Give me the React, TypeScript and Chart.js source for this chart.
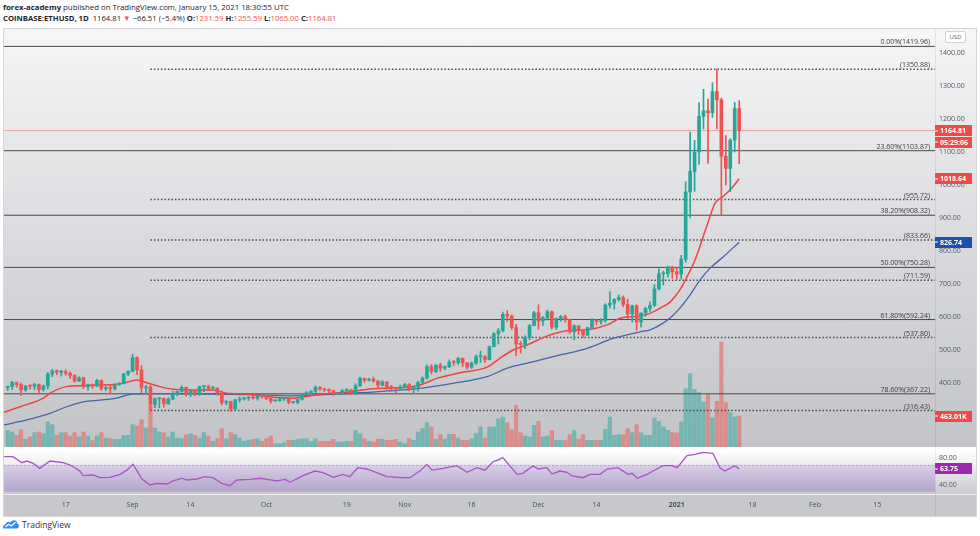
import React, { useEffect, useRef } from 'react';
import { Chart, registerables } from 'chart.js';

Chart.register(...registerables);

const FONT = '"Open Sans", "Noto Sans", sans-serif';

// ---- data (day 0 = 17 Aug 2020) ----
const firstDay = -13; // 4 Aug 2020

const opens = [
  386, 389.5, 401.5, 395, 379, 391, 390, 395, 380, 391, 427, 437, 433, 434, 429, 423, 406, 416, 389, 395, 391, 408, 383, 386, 382, 395, 399, 428,
  435, 477, 440, 385, 388, 335, 352, 353, 337, 351, 368, 374, 387, 365, 377, 365, 389, 389, 384, 385, 370, 341, 344, 321, 349, 352, 354, 357, 354, 360,
  359, 353, 346, 346, 352, 353, 341, 341, 350, 365, 371, 375, 387, 381, 379, 377, 366, 368, 377, 379, 369, 392, 414, 409, 411, 406, 393, 403, 388, 386, 383,
  386, 396, 383, 387, 402, 415, 449, 435, 454, 445, 449, 463, 462, 475, 461, 448, 460, 480, 480, 471, 510, 549, 558, 608, 603, 568, 518, 517, 538, 574,
  613, 588, 598, 616, 569, 596, 601, 592, 555, 573, 559, 545, 568, 591, 586, 589, 636, 642, 653, 659, 638, 609, 634, 585, 612, 626, 635, 685, 731, 731, 751,
  737, 730, 775, 979, 1041, 1100, 1208, 1225, 1219, 1283, 1258, 1087, 1050, 1136, 1231.59,
];
const highs = [
  391, 405, 403, 400, 393, 395, 399, 397, 394, 432, 441, 440, 438, 440, 434, 426, 419, 418, 397, 397, 411, 409, 391, 395, 397, 401, 429, 438,
  487, 479, 453, 393, 392, 355, 356, 355, 355, 375, 376, 391, 388, 381, 378, 391, 392, 394, 390, 385, 377, 347, 345, 351, 358, 356, 359, 365, 362, 361,
  369, 356, 349, 353, 355, 354, 343, 352, 368, 374, 377, 392, 390, 385, 382, 378, 370, 380, 383, 380, 398, 418, 415, 414, 418, 407, 407, 405, 393, 387, 394,
  399, 398, 389, 406, 419, 454, 456, 456, 460, 452, 470, 468, 478, 476, 462, 464, 485, 496, 483, 512, 553, 565, 615, 620, 606, 578, 526, 543, 578, 617,
  637, 601, 621, 619, 597, 605, 606, 594, 576, 574, 560, 569, 595, 592, 595, 640, 676, 656, 667, 664, 654, 636, 637, 613, 629, 646, 698, 746, 739, 754, 754,
  749, 787, 1010, 1160, 1135, 1250, 1290, 1260, 1310, 1350.88, 1263, 1150, 1140, 1250, 1255.59,
];
const lows = [
  377, 380, 387, 362, 375, 381, 380, 370, 375, 382, 419, 425, 421, 423, 414, 402, 404, 383, 378, 384, 389, 377, 377, 370, 379, 393, 397, 422,
  434, 425, 370, 368, 316.43, 325, 325, 327, 335, 349, 361, 372, 360, 358, 361, 362, 374, 378, 381, 363, 334, 334, 314, 317, 342, 348, 347, 351, 348, 354,
  350, 339, 344, 345, 347, 337, 338, 337, 348, 364, 368, 370, 378, 374, 371, 362, 365, 367, 375, 364, 365, 389, 402, 406, 402, 382, 391, 381, 375, 370, 379,
  385, 376, 370, 376, 398, 412, 427, 431, 435, 440, 447, 453, 456, 450, 442, 444, 456, 463, 462, 470, 509, 518, 555, 586, 562, 483, 490, 504, 531, 573,
  563, 574, 591, 563, 562, 587, 584, 550, 531, 547, 537, 543, 566, 576, 578, 584, 627, 624, 648, 631, 595, 584, 560, 570, 602, 617, 631, 682, 697, 721, 717,
  714, 715, 766, 900, 981, 1062, 1170, 1065, 1205, 1170, 909, 1000, 980, 1100, 1065,
];
const closes = [
  389.5, 401.5, 395, 379, 391, 390, 395, 380, 391, 427, 437, 433, 434, 429, 423, 406, 416, 389, 395, 391, 408, 383, 386, 382, 395, 399, 428, 435,
  477, 440, 385, 388, 335, 352, 353, 337, 351, 368, 374, 387, 365, 377, 365, 389, 389, 384, 385, 370, 341, 344, 321, 349, 352, 354, 357, 354, 360, 359,
  353, 346, 346, 352, 353, 341, 341, 350, 365, 371, 375, 387, 381, 379, 377, 366, 368, 377, 379, 369, 392, 414, 409, 411, 406, 393, 403, 388, 386, 383, 386,
  396, 383, 387, 402, 415, 449, 435, 454, 445, 449, 463, 462, 475, 461, 448, 460, 480, 480, 471, 510, 549, 558, 608, 603, 568, 518, 517, 538, 574, 613,
  588, 598, 616, 569, 596, 601, 592, 555, 573, 559, 545, 568, 591, 586, 589, 636, 642, 653, 659, 638, 609, 634, 585, 612, 626, 635, 685, 731, 731, 751, 737,
  730, 775, 979, 1041, 1100, 1208, 1225, 1219, 1283, 1258, 1087, 1050, 1136, 1231.59, 1164.81,
];
// volume, thousands of ETH
const volumesK = [
  250, 225, 175, 260, 115, 150, 215, 225, 200, 375, 335, 175, 215, 215, 165, 215, 150, 225, 165, 100, 165, 215, 135, 125, 115, 115, 175, 175,
  335, 315, 410, 285, 615, 285, 225, 215, 150, 225, 135, 125, 185, 200, 175, 135, 215, 165, 85, 125, 275, 125, 215, 185, 135, 85, 100, 115, 125, 85,
  125, 165, 50, 50, 65, 100, 100, 115, 125, 125, 85, 125, 85, 85, 85, 115, 75, 75, 85, 85, 250, 200, 125, 85, 75, 120, 115, 100, 100, 115, 75,
  50, 125, 100, 225, 275, 365, 300, 115, 185, 115, 190, 190, 135, 100, 100, 125, 200, 300, 135, 300, 300, 425, 450, 365, 260, 625, 215, 165, 150, 325,
  385, 150, 165, 250, 100, 100, 100, 185, 250, 115, 185, 100, 100, 100, 100, 265, 450, 175, 185, 185, 275, 215, 335, 215, 175, 175, 435, 385, 300, 250, 215,
  210, 375, 875, 1100, 865, 815, 675, 785, 435, 685, 1575, 665, 515, 450, 463.01,
];

// moving averages: [day, price]
const emaFast: [number, number][] = [
  [-13.8, 311], [-10.2, 328], [-5, 354], [-3.5, 369], [0.2, 389], [4, 392], [7.7, 394], [11.4, 396], [13.7, 402], [15.9, 409],
  [18.2, 401], [21.1, 389], [24.1, 381], [28.6, 379], [33.1, 379], [36.1, 369], [40.6, 367], [45, 359], [51, 354], [57, 366],
  [64.4, 374], [68.2, 382], [75.6, 386], [79.4, 394], [83.2, 414], [88.4, 431], [94.5, 448], [97.4, 475], [100.3, 500], [103.4, 515],
  [107.9, 542], [112.4, 558], [116.9, 561], [121.4, 576], [124.3, 596], [128.8, 603], [131, 611], [133.3, 627], [135.5, 645],
  [137.7, 682], [139.5, 727], [141.1, 773], [143.7, 874], [145.6, 945], [147.4, 965], [149.3, 990], [151, 1018.64],
];
const emaSlow: [number, number][] = [
  [-13.8, 273], [-8.7, 288], [-3.5, 308], [0.2, 328], [4, 343], [7.7, 348], [11.4, 354], [15.2, 367], [21, 368], [30, 367],
  [41.3, 365], [51, 361], [57, 364], [64.4, 369], [75.6, 379], [79.4, 384], [86.8, 399], [94.5, 419], [99, 445], [103.4, 460],
  [109.3, 480], [116.9, 505], [122.7, 535], [128.8, 555], [131, 561], [133.3, 576], [135.5, 597], [137.7, 627], [140, 667],
  [142.2, 712], [144.5, 748], [147.4, 782], [151, 826.74],
];
const rsiPoints: [number, number][] = [
  [-13.8, 82], [-11.8, 82], [-9.8, 73], [-8.7, 75.5], [-7.3, 72], [-5.8, 64.7], [-3.5, 75.5], [-0.6, 73], [1.0, 69.6], [3.2, 60.7],
  [3.9, 53.8], [6.1, 54.8], [7.7, 50.8], [9.9, 51.4], [12.2, 55.8], [13.7, 62], [15.1, 70.6], [17.1, 48.9], [18.9, 40], [20.5, 42.5],
  [22.7, 41.5], [24.1, 46], [26.1, 50], [27.2, 47.4], [29.4, 48.9], [31.2, 52.3], [33.0, 50.8], [35.0, 42.5], [36.8, 39], [38.4, 47.4],
  [41.3, 48.4], [43.6, 50], [45.1, 48.4], [47.4, 46], [49.2, 48.4], [50.3, 44], [53.2, 53.8], [55.9, 60.7], [57.7, 58.2], [60.0, 51.4],
  [62.2, 55.8], [63.7, 52.3], [65.5, 65.6], [67.5, 63.7], [70.0, 57.5], [72.0, 52.3], [75.6, 50.8], [77.2, 50.8], [79.4, 60.7], [81.0, 70.6],
  [82.1, 62], [84.6, 64.7], [87.7, 68.6], [90.0, 58.8], [92.2, 65.6], [94.0, 62], [95.8, 74.5], [96.9, 77], [98.0, 80.5], [101.2, 55.8],
  [102.5, 57.3], [104.8, 68.6], [105.9, 63.7], [107.9, 65.6], [109.0, 56.3], [110.8, 60.7], [112.4, 58.8], [113.5, 53.4], [116.0, 50.8], [117.6, 55.8],
  [119.8, 55.8], [121.4, 63.7], [123.8, 65.6], [126.1, 55.8], [127.0, 57.3], [128.1, 50], [130.3, 55.8], [131.7, 60.7], [133.9, 68.6], [135.9, 68.6],
  [137.1, 65.6], [139.3, 83.4], [141.1, 85.4], [142.9, 88.4], [145.1, 87], [146.7, 65.6], [147.8, 60.7], [150.0, 68.6], [151, 63.75],
];

// Fibonacci retracement levels
const fibSolidLevels = [1419.96, 1103.87, 908.32, 750.28, 592.24, 367.22];
const fibSolidPct = ['0.00%', '23.60%', '38.20%', '50.00%', '61.80%', '78.60%'];
const fibDottedLevels = [1350.88, 955.72, 833.66, 711.59, 537.8, 316.43];
const fibDottedStartDay = 19; // 5 Sep 2020

// axes
const priceTicks = [400, 500, 600, 700, 800, 900, 1000, 1100, 1200, 1300, 1400];
const rsiTicks = [40, 80];
const xTickDays = [0, 15, 28, 45, 63, 76, 91, 106, 119, 137, 154, 168, 182];
const xTickLabels = ['17', 'Sep', '14', 'Oct', '19', 'Nov', '16', 'Dec', '14', '2021', '18', 'Feb', '15'];
const yearLabel = '2021';
const countdownLabel = '05:29:06';

const X_MIN = -13.83;
const X_MAX = 194.9;
const PRICE_MIN = 206.06;
const PRICE_MAX = 1472.7;
const VOL_MAX = 6270;
const RSI_MIN = 26.67;
const RSI_MAX = 91.85;

const UP = '#26a69a';
const DOWN = '#ef5350';
const UP_VOL = 'rgba(38,166,154,0.5)';
const DOWN_VOL = 'rgba(239,83,80,0.5)';
const FIB_COLOR = '#4a4a4a';
const AXIS_TEXT = '#555861';
const AXIS_W = 41;

function drawTag(ctx: CanvasRenderingContext2D, x: number, y: number, text: string, color: string) {
  ctx.save();
  ctx.fillStyle = color;
  ctx.fillRect(x, Math.round(y - 5.5), 37, 11);
  ctx.fillStyle = '#ffffff';
  ctx.fillRect(x, Math.round(y) - 0.5, 3, 1);
  ctx.font = `bold 7px ${FONT}`;
  ctx.textAlign = 'left';
  ctx.textBaseline = 'middle';
  ctx.fillText(text, x + 5, y + 0.5);
  ctx.restore();
}

const noPadFit = (s: any) => {
  s.paddingTop = 0;
  s.paddingBottom = 0;
  s.paddingLeft = 0;
  s.paddingRight = 0;
};

export default function App() {
  const mainRef = useRef<HTMLCanvasElement>(null);
  const rsiRef = useRef<HTMLCanvasElement>(null);

  useEffect(() => {
    const charts: Chart[] = [];
    const days = closes.map((_, i) => firstDay + i);
    const isUp = closes.map((c, i) => c >= opens[i]);
    const last = closes.length - 1;

    const fibDatasets: any[] = [];
    fibSolidLevels.forEach((v) => {
      fibDatasets.push({
        type: 'line', data: [{ x: X_MIN, y: v }, { x: X_MAX, y: v }], borderColor: FIB_COLOR,
        borderWidth: 1, pointRadius: 0, yAxisID: 'y', order: 6,
      });
    });
    fibDottedLevels.forEach((v) => {
      fibDatasets.push({
        type: 'line', data: [{ x: fibDottedStartDay, y: v }, { x: X_MAX, y: v }], borderColor: FIB_COLOR,
        borderWidth: 1.5, borderDash: [1.5, 2], pointRadius: 0, yAxisID: 'y', order: 6,
      });
    });

    const bgMain = {
      id: 'bgMain',
      beforeDraw(chart: any) {
        const { ctx, width, height } = chart;
        const g = ctx.createLinearGradient(0, 0, 0, height);
        g.addColorStop(0, '#f6f6f7');
        g.addColorStop(0.5, '#dadbde');
        g.addColorStop(1, '#c2c4c8');
        ctx.save();
        ctx.fillStyle = g;
        ctx.fillRect(4, 0, width - 4, height);
        ctx.fillStyle = 'rgba(0,0,0,0.07)';
        ctx.fillRect(chart.chartArea.right, 0, 1, height);
        ctx.restore();
      },
      afterDraw(chart: any) {
        const { ctx, chartArea } = chart;
        const ys = chart.scales.y;
        const yv = chart.scales.yv;
        ctx.save();
        ctx.font = `7px ${FONT}`;
        ctx.fillStyle = '#3c3c3c';
        ctx.textAlign = 'right';
        ctx.textBaseline = 'alphabetic';
        fibSolidLevels.forEach((v, i) => {
          ctx.fillText(`${fibSolidPct[i]}(${v.toFixed(2)})`, chartArea.right - 5, ys.getPixelForValue(v) - 2);
        });
        fibDottedLevels.forEach((v) => {
          ctx.fillText(`(${v.toFixed(2)})`, chartArea.right - 5, ys.getPixelForValue(v) - 2);
        });
        ctx.restore();
        const x = chartArea.right;
        const py = ys.getPixelForValue(closes[last]);
        drawTag(ctx, x, py, closes[last].toFixed(2), '#f04a47');
        drawTag(ctx, x, py + 11.5, countdownLabel, '#f04a47');
        drawTag(ctx, x, ys.getPixelForValue(emaFast[emaFast.length - 1][1]), emaFast[emaFast.length - 1][1].toFixed(2), '#f04a47');
        drawTag(ctx, x, ys.getPixelForValue(emaSlow[emaSlow.length - 1][1]), emaSlow[emaSlow.length - 1][1].toFixed(2), '#1f4fa8');
        drawTag(ctx, x, yv.getPixelForValue(volumesK[last]), `${volumesK[last].toFixed(2)}K`, '#f04a47');
      },
    };

    if (mainRef.current) {
      charts.push(new Chart(mainRef.current, {
        type: 'bar',
        data: {
          datasets: [
            {
              type: 'bar', data: days.map((d, i) => ({ x: d, y: [opens[i], closes[i]] })),
              backgroundColor: isUp.map((u) => (u ? UP : DOWN)), barThickness: 3, minBarLength: 1,
              grouped: false, yAxisID: 'y', order: 0,
            },
            {
              type: 'bar', data: days.map((d, i) => ({ x: d, y: [lows[i], highs[i]] })),
              backgroundColor: isUp.map((u) => (u ? UP : DOWN)), barThickness: 1,
              grouped: false, yAxisID: 'y', order: 1,
            },
            {
              type: 'line', data: emaFast.map(([x, y]) => ({ x, y })), borderColor: '#f0433f', borderWidth: 1.5,
              pointRadius: 0, tension: 0.4, cubicInterpolationMode: 'monotone', yAxisID: 'y', order: 2,
            },
            {
              type: 'line', data: emaSlow.map(([x, y]) => ({ x, y })), borderColor: '#4565a8', borderWidth: 1.3,
              pointRadius: 0, tension: 0.4, cubicInterpolationMode: 'monotone', yAxisID: 'y', order: 3,
            },
            {
              type: 'line', data: [{ x: X_MIN, y: closes[last] }, { x: X_MAX, y: closes[last] }],
              borderColor: 'rgba(239,83,80,0.45)', borderWidth: 1, pointRadius: 0, yAxisID: 'y', order: 5,
            },
            ...fibDatasets,
            {
              type: 'bar', data: days.map((d, i) => ({ x: d, y: volumesK[i] })),
              backgroundColor: isUp.map((u) => (u ? UP_VOL : DOWN_VOL)), barThickness: 3.6,
              grouped: false, yAxisID: 'yv', order: 10,
            },
          ] as any,
        },
        options: {
          animation: false,
          responsive: false,
          events: [],
          layout: { padding: { left: 4, right: 0, top: 0, bottom: 0 } },
          plugins: { legend: { display: false }, tooltip: { enabled: false } },
          scales: {
            x: { type: 'linear', min: X_MIN, max: X_MAX, display: false, offset: false, grid: { display: false } },
            y: {
              position: 'right', min: PRICE_MIN, max: PRICE_MAX,
              afterBuildTicks: (s: any) => { s.ticks = priceTicks.map((v) => ({ value: v })); },
              afterFit: (s: any) => { s.width = AXIS_W; noPadFit(s); },
              grid: { display: false, drawTicks: false }, border: { display: false },
              ticks: { font: { family: FONT, size: 7 }, color: AXIS_TEXT, padding: 4, callback: (v: any) => Number(v).toFixed(2) },
            },
            yv: { display: false, min: 0, max: VOL_MAX },
          },
        } as any,
        plugins: [bgMain],
      }));
    }

    const bgRsi = {
      id: 'bgRsi',
      beforeDraw(chart: any) {
        const { ctx, width, height, chartArea } = chart;
        ctx.save();
        const g = ctx.createLinearGradient(0, chartArea.top, 0, chartArea.bottom);
        g.addColorStop(0, '#ffffff');
        g.addColorStop(1, '#c9cace');
        ctx.fillStyle = g;
        ctx.fillRect(4, 0, width - 4, chartArea.bottom);
        ctx.fillStyle = '#f0f0f1';
        ctx.fillRect(4, chartArea.bottom, width - 4, 1);
        ctx.fillStyle = '#c6c8cc';
        ctx.fillRect(4, chartArea.bottom + 1, width - 4, height - chartArea.bottom - 1);
        ctx.fillStyle = 'rgba(0,0,0,0.07)';
        ctx.fillRect(chartArea.right, 0, 1, height);
        ctx.restore();
      },
      beforeDatasetsDraw(chart: any) {
        const { ctx, chartArea } = chart;
        const ys = chart.scales.y;
        const y70 = ys.getPixelForValue(70);
        const y30 = ys.getPixelForValue(30);
        ctx.save();
        const g = ctx.createLinearGradient(0, y70, 0, y30);
        g.addColorStop(0, 'rgba(150,95,205,0.22)');
        g.addColorStop(1, 'rgba(125,75,180,0.3)');
        ctx.fillStyle = g;
        ctx.fillRect(chartArea.left, y70, chartArea.right - chartArea.left, y30 - y70);
        ctx.strokeStyle = 'rgba(140,130,160,0.45)';
        ctx.setLineDash([2, 2]);
        ctx.lineWidth = 1;
        ctx.beginPath();
        ctx.moveTo(chartArea.left, Math.round(y70) + 0.5);
        ctx.lineTo(chartArea.right, Math.round(y70) + 0.5);
        ctx.stroke();
        ctx.restore();
      },
      afterDraw(chart: any) {
        const { ctx, chartArea } = chart;
        const ys = chart.scales.y;
        const v = rsiPoints[rsiPoints.length - 1][1];
        drawTag(ctx, chartArea.right, ys.getPixelForValue(v), v.toFixed(2), '#9c27b0');
      },
    };

    if (rsiRef.current) {
      charts.push(new Chart(rsiRef.current, {
        type: 'line',
        data: {
          datasets: [
            {
              data: rsiPoints.map(([x, y]) => ({ x, y })), borderColor: '#ab52c9', borderWidth: 1.3,
              pointRadius: 0, tension: 0,
            },
          ],
        },
        options: {
          animation: false,
          responsive: false,
          events: [],
          layout: { padding: { left: 4, right: 0, top: 3, bottom: 0 } },
          plugins: { legend: { display: false }, tooltip: { enabled: false } },
          scales: {
            x: {
              type: 'linear', min: X_MIN, max: X_MAX, offset: false,
              afterBuildTicks: (s: any) => { s.ticks = xTickDays.map((v) => ({ value: v })); },
              afterFit: (s: any) => { s.height = 22; noPadFit(s); },
              grid: { display: false, drawTicks: false }, border: { display: false },
              ticks: {
                autoSkip: false, maxRotation: 0, padding: 7, color: '#4b4e56',
                font: (c: any) => {
                  const idx = c.tick ? xTickDays.indexOf(c.tick.value) : -1;
                  return { family: FONT, size: 7, weight: xTickLabels[idx] === yearLabel ? 'bold' : 'normal' };
                },
                callback: (v: any) => xTickLabels[xTickDays.indexOf(Number(v))] ?? '',
              },
            },
            y: {
              position: 'right', min: RSI_MIN, max: RSI_MAX,
              afterBuildTicks: (s: any) => { s.ticks = rsiTicks.map((v) => ({ value: v })); },
              afterFit: (s: any) => { s.width = AXIS_W; noPadFit(s); },
              grid: { display: false, drawTicks: false }, border: { display: false },
              ticks: { font: { family: FONT, size: 7 }, color: AXIS_TEXT, padding: 4, callback: (v: any) => Number(v).toFixed(2) },
            },
          },
        } as any,
        plugins: [bgRsi],
      }));
    }

    return () => charts.forEach((c) => c.destroy());
  }, []);

  const red = { color: DOWN };
  const b = { fontWeight: 700 as const };
  return (
    <div style={{ position: 'absolute', left: 0, top: 0, width: 980, height: 536, background: '#ffffff', fontFamily: FONT, color: '#1e222d', overflow: 'hidden' }}>
      <div style={{ position: 'absolute', left: 3, top: 1, fontSize: 7.8, lineHeight: '12px', whiteSpace: 'nowrap' }}>
        <span style={b}>forex-academy</span> published on TradingView.com, January 15, 2021 18:30:55 UTC
      </div>
      <div style={{ position: 'absolute', left: 3, top: 12, fontSize: 7.7, lineHeight: '12px', whiteSpace: 'nowrap' }}>
        <span style={b}>COINBASE:ETHUSD, 1D</span>&nbsp; 1164.81 <span style={red}>▼</span> −66.51 (−5.4%) <span style={b}>O:</span><span style={red}>1231.59</span>{' '}
        <span style={b}>H:</span><span style={red}>1255.59</span> <span style={b}>L:</span><span style={red}>1065.00</span>{' '}
        <span style={b}>C:</span><span style={red}>1164.81</span>
      </div>
      <canvas ref={mainRef} width={976} height={418} style={{ position: 'absolute', left: 0, top: 29, width: 976, height: 418 }} />
      <canvas ref={rsiRef} width={976} height={69} style={{ position: 'absolute', left: 0, top: 447, width: 976, height: 69 }} />
      <div style={{ position: 'absolute', left: 3, top: 28, width: 972, height: 487, border: '1px solid #d4d6da', pointerEvents: 'none' }} />
      <div style={{ position: 'absolute', left: 945, top: 31, width: 19, height: 10, border: '1px solid #cfd1d5', borderRadius: 2, background: '#ffffff', fontSize: 6, lineHeight: '10px', textAlign: 'center', color: '#555861' }}>USD</div>
      <div style={{ position: 'absolute', left: 3, top: 518, height: 12, display: 'flex', alignItems: 'center' }}>
        <svg width="16" height="10" viewBox="0 0 16 10">
          <path d="M1 9.5 C-0.5 9.5 -0.2 5.5 2.5 5.6 C2.8 2.6 6.5 1.8 7.8 3.6 C9 0.2 14.2 0.6 14.1 4.6 C16.6 5 16.4 9.5 13.8 9.5 Z" fill="#2a8ff0" />
          <path d="M2.5 8 L5.5 5.3 L8 7 L12.5 3.2" stroke="#ffffff" strokeWidth="1.2" fill="none" />
        </svg>
        <span style={{ fontSize: 8.5, marginLeft: 3, color: '#2f3241' }}>TradingView</span>
      </div>
    </div>
  );
}
